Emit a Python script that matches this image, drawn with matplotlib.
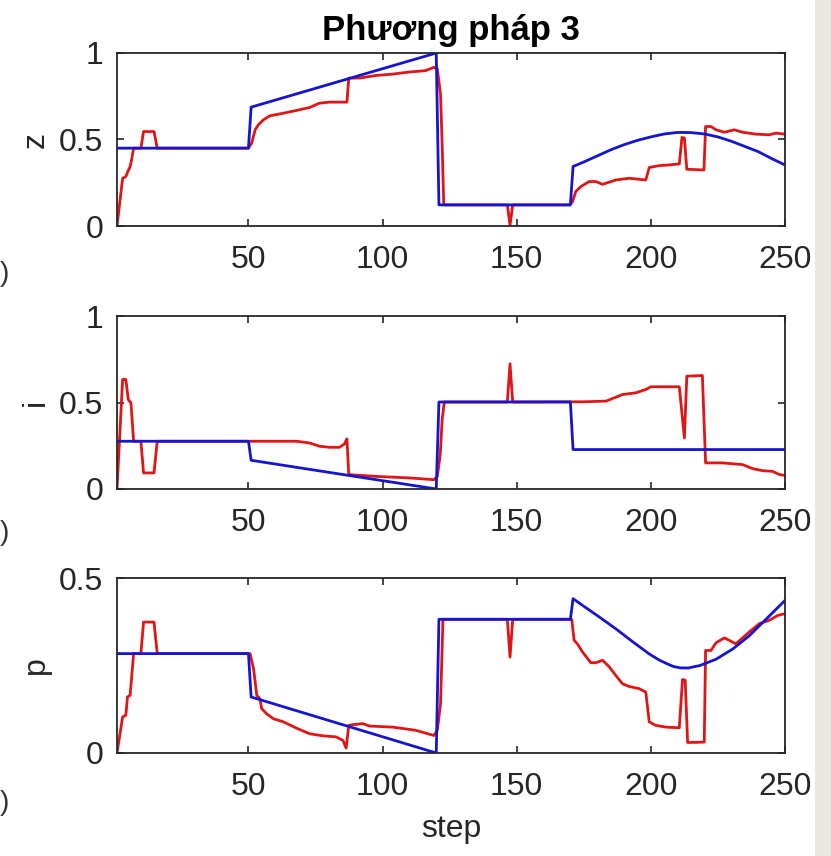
import matplotlib.pyplot as plt
from matplotlib.patches import Rectangle

plt.rcParams['font.family'] = ['Liberation Sans', 'DejaVu Sans']

# z: reference (blue) and estimate (red)
z_ref_x = [1, 50, 51, 120, 121, 170, 171, 175, 180, 185, 190, 195, 200, 205, 210, 215, 220, 225, 230, 235, 240, 245, 250]
z_ref_y = [0.45, 0.45, 0.687, 1.0, 0.122, 0.122, 0.344, 0.37, 0.405, 0.44, 0.47, 0.495, 0.515, 0.532, 0.541, 0.540, 0.532, 0.515, 0.49, 0.46, 0.43, 0.39, 0.353]
z_est_x = [1, 3.1, 4.3, 4.9, 5.9, 6.4, 7.2, 9.9, 10.9, 14.8, 16, 50, 51.2, 52.5, 53.7, 55.6, 58, 63, 67.9, 72.8, 76.5,
           80.2, 86.7, 87.4, 91.4, 97.5, 103.7, 109.9, 116, 119.1, 120.4, 121.6, 122.2, 122.8, 146.5, 147.5, 148.5,
           169.8, 170.8, 172, 173.9, 177, 179.5, 182, 186.9, 191.9, 198.1, 199.4, 203.1, 206.8, 210.6, 211.6, 212.5,
           213.4, 219.8, 220.4, 222.4, 224.3, 227.4, 231.1, 234.2, 239.2, 244.1, 246.6, 250]
z_est_y = [0, 0.276, 0.286, 0.31, 0.344, 0.38, 0.45, 0.45, 0.546, 0.546, 0.45, 0.45, 0.479, 0.556, 0.585, 0.614, 0.637, 0.652, 0.668, 0.685, 0.71,
           0.716, 0.716, 0.855, 0.855, 0.87, 0.878, 0.89, 0.898, 0.917, 0.909, 0.76, 0.47, 0.122, 0.122, 0.005, 0.122,
           0.122, 0.141, 0.199, 0.228, 0.257, 0.257, 0.241, 0.266, 0.276, 0.266, 0.338, 0.349, 0.353, 0.359, 0.512, 0.508,
           0.328, 0.324, 0.575, 0.575, 0.556, 0.542, 0.556, 0.542, 0.531, 0.527, 0.537, 0.531]

# i
i_ref_x = [1, 50, 51, 120, 121, 170, 171, 250]
i_ref_y = [0.276, 0.276, 0.166, 0.0, 0.503, 0.503, 0.228, 0.228]
i_est_x = [1, 3.1, 4.3, 5.2, 6.2, 7.2, 9.9, 10.9, 14.8, 16, 67.9, 72.8, 76.5, 80.2, 83.9, 85.8, 86.7, 87.4, 97.5, 109.9,
           119.1, 120.4, 121.5, 122.2, 123, 146.5, 147.5, 148.5, 174.5, 183.3, 185.7, 189.4, 194.4, 198.1, 200, 210.6,
           212.5, 213.4, 219.2, 220.4, 226.6, 234.2, 237.9, 241.6, 245.4, 248, 250]
i_est_y = [0, 0.633, 0.633, 0.517, 0.498, 0.276, 0.276, 0.093, 0.093, 0.276, 0.276, 0.266, 0.247, 0.241, 0.241, 0.26, 0.29, 0.083, 0.073, 0.064,
           0.054, 0.073, 0.2, 0.4, 0.503, 0.503, 0.724, 0.503, 0.504, 0.508, 0.523, 0.546, 0.556, 0.575, 0.591, 0.591,
           0.295, 0.652, 0.656, 0.151, 0.151, 0.141, 0.118, 0.106, 0.102, 0.083, 0.079]

# p
p_ref_x = [1, 50, 51, 120, 121, 170, 171, 174.5, 180.7, 186.9, 193.2, 199.4, 203, 206, 208.5, 211.2, 214, 218.3, 224.3, 230.5, 236.7, 242.9, 250]
p_ref_y = [0.284, 0.284, 0.16, 0.0, 0.382, 0.382, 0.441, 0.422, 0.389, 0.355, 0.318, 0.283, 0.266, 0.255, 0.247, 0.243, 0.243, 0.25, 0.268, 0.297, 0.335, 0.382, 0.436]
p_est_x = [1, 3.1, 4.3, 4.9, 5.9, 7.2, 9.9, 10.9, 14.8, 16, 50, 50.6, 51.9, 53.1, 54.3, 54.9, 56.8, 59.3, 63, 67.9, 72.8,
           77.8, 82.7, 85.2, 86.4, 87.4, 88.9, 92.6, 95.1, 103.7, 112.3, 119.1, 120.4, 121.6, 122.5, 146.5, 147.5, 148.5,
           170.5, 171.4, 172.6, 174.5, 177.6, 179.5, 182, 184.5, 186.9, 189.4, 191.9, 195.6, 198.1, 199.4, 201.8, 205.6,
           210.6, 211.8, 212.8, 213.7, 219.9, 220.4, 222.4, 224.3, 227.4, 231.7, 236.7, 240.5, 244.1, 247.3, 250]
p_est_y = [0, 0.103, 0.108, 0.16, 0.165, 0.284, 0.284, 0.374, 0.374, 0.284, 0.284, 0.284, 0.241, 0.165, 0.155, 0.127, 0.112, 0.098, 0.089, 0.071, 0.055,
           0.049, 0.046, 0.036, 0.014, 0.079, 0.081, 0.084, 0.077, 0.074, 0.065, 0.05, 0.065, 0.14, 0.382, 0.382, 0.274, 0.382,
           0.382, 0.322, 0.312, 0.289, 0.258, 0.258, 0.265, 0.246, 0.222, 0.198, 0.19, 0.184, 0.174, 0.089, 0.079, 0.074,
           0.072, 0.21, 0.208, 0.03, 0.031, 0.293, 0.293, 0.315, 0.329, 0.312, 0.346, 0.37, 0.379, 0.393, 0.398]

ylabels = ['z', 'i', 'p']
ylims = [1, 1, 0.5]
yticks = [[0, 0.5, 1], [0, 0.5, 1], [0, 0.5]]
xticks = [50, 100, 150, 200, 250]

W, H = 831, 856
fig = plt.figure(figsize=(W / 100, H / 100), dpi=100)
fig.patch.set_facecolor('white')
# grey strip on the right edge of the screenshot
fig.patches.append(Rectangle((815 / W, 0), 1 - 815 / W, 1, transform=fig.transFigure,
                             facecolor='#e9e7df', edgecolor='none', zorder=0))

boxes = [(53, 226), (316, 489), (578, 753)]
data = [(z_est_x, z_est_y, z_ref_x, z_ref_y),
        (i_est_x, i_est_y, i_ref_x, i_ref_y),
        (p_est_x, p_est_y, p_ref_x, p_ref_y)]

dark = '#262626'
axes = []
for k in range(3):
    top, bot = boxes[k]
    ax = fig.add_axes([117 / W, 1 - bot / H, (785 - 117) / W, (bot - top) / H])
    ex, ey, rx, ry = data[k]
    ax.plot(ex, ey, color='#e01515', lw=2.0)
    ax.plot(rx, ry, color='#1414d2', lw=2.0)
    ax.set_xlim(1, 250)
    ax.set_ylim(0, ylims[k])
    ax.set_xticks(xticks)
    ax.set_yticks(yticks[k])
    ax.set_yticklabels([('%g' % v) for v in yticks[k]])
    ax.tick_params(direction='in', top=True, right=True, length=5, width=1.2,
                   labelsize=23, colors=dark, pad=10)
    ax.tick_params(axis='x', pad=14)
    for s in ax.spines.values():
        s.set_color(dark)
        s.set_linewidth(1.3)
    ax.set_ylabel(ylabels[k], fontsize=23, color=dark, labelpad=6)
    axes.append(ax)

axes[0].set_title('Phương pháp 3', fontsize=25, fontweight='bold', pad=9)
axes[2].set_xlabel('step', fontsize=23, color=dark, labelpad=8)

# cut-off characters at the left edge of the screenshot
for yy in [274, 533, 803]:
    fig.text(0, 1 - yy / H, ')', fontsize=20, color='#333333', va='center', ha='left')

fig.savefig('out.png', dpi=100)
